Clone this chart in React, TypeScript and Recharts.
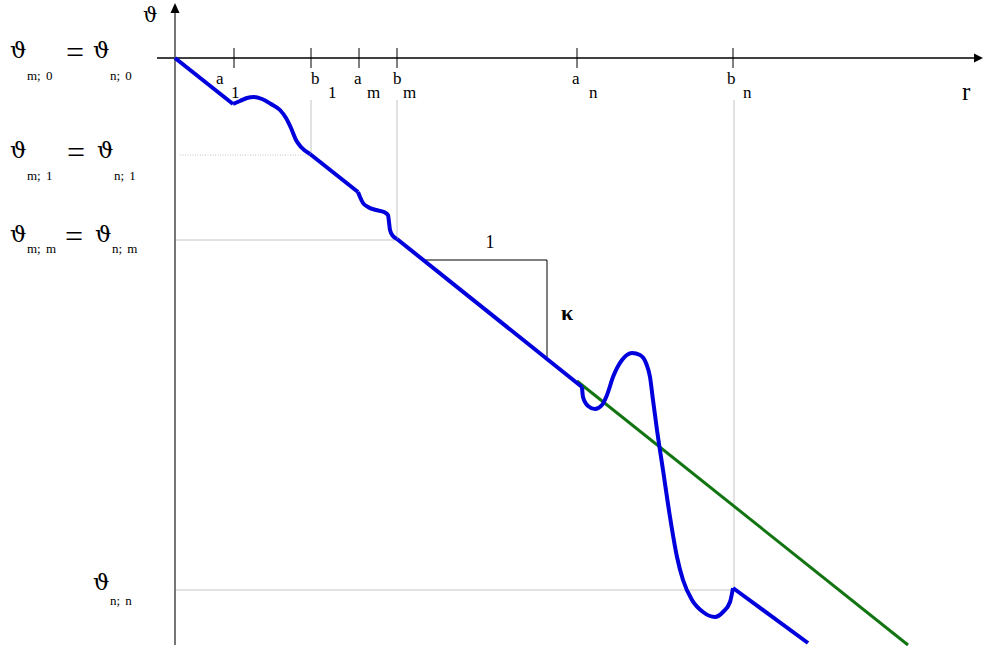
import { ComposedChart, Line, XAxis, YAxis, ReferenceLine, ReferenceDot } from "recharts";

// r to the right, theta upwards; origin where the two axes cross
const runToA1 = [{ r: 0, t: 0 }, { r: 58, t: -46 }];
const bumpOne = [
  { r: 58, t: -46 }, { r: 65, t: -43 }, { r: 72, t: -40 }, { r: 79, t: -39 }, { r: 87, t: -41 },
  { r: 96, t: -46 }, { r: 105, t: -52 }, { r: 111, t: -60 }, { r: 116, t: -70 }, { r: 121, t: -82 },
  { r: 126, t: -89 }, { r: 135, t: -96 },
];
const runToAm = [{ r: 135, t: -96 }, { r: 183, t: -134 }];
const bumpM = [
  { r: 183, t: -134 }, { r: 185, t: -139 }, { r: 188, t: -145 }, { r: 193, t: -149 }, { r: 201, t: -152 },
  { r: 209, t: -154 }, { r: 213, t: -157 }, { r: 214, t: -164 }, { r: 215, t: -172 }, { r: 218, t: -178 },
  { r: 222, t: -181 },
];
const runToAn = [{ r: 222, t: -181 }, { r: 407, t: -329 }];
const bumpN = [
  { r: 407, t: -329 }, { r: 408, t: -339 }, { r: 413, t: -348 }, { r: 420, t: -351 }, { r: 427, t: -347 },
  { r: 432, t: -337 }, { r: 438, t: -319 }, { r: 447, t: -302 }, { r: 457, t: -295 }, { r: 465, t: -297 },
  { r: 471, t: -305 }, { r: 475, t: -319 }, { r: 478, t: -342 }, { r: 482, t: -372 }, { r: 488, t: -412 },
  { r: 495, t: -459 }, { r: 502, t: -499 }, { r: 508, t: -522 }, { r: 517, t: -542 }, { r: 528, t: -554 },
  { r: 540, t: -559 }, { r: 548, t: -554 }, { r: 555, t: -544 }, { r: 558, t: -530 },
];
const runAfterBn = [{ r: 558, t: -530 }, { r: 633, t: -585 }];
const slopeLine = [{ r: 402, t: -323 }, { r: 733, t: -587 }];

// ticks on the r axis
const tickR = [59, 136, 184, 222, 402, 558];
const tickMain = ["a", "b", "a", "b", "a", "b"];
const tickSub = ["1", "1", "m", "m", "n", "n"];
// hand placement of each tick label (px from the tick)
const tickMainDx = [-18, 0, -5, -4, -5, -6];
const tickSubDx = [-3, 17, 8, 6, 12, 10];

// levels marked on the theta axis
const levelT = [0, -97, -182];
const levelLeft = ["m; 0", "m; 1", "m; m"];
const levelRight = ["n; 0", "n; 1", "n; m"];
const levelNN = -532;

const SERIF = "'Liberation Serif', 'DejaVu Serif', serif";
const THETA_FONT = "'DejaVu Serif', serif";
const BLUE = "#0000dd";
const GREY = "#c4c4c4";

const blueProps = { dataKey: "t", stroke: BLUE, strokeWidth: 4, dot: false, isAnimationActive: false, activeDot: false } as const;

function Theta(x: number, y: number, size = 23) {
  return <text x={x} y={y} fontFamily={THETA_FONT} fontSize={size} fill="#000">ϑ</text>;
}

function LevelLabel(p: any, left: string, right: string, dy: number, subDy: number, eqDx: number, rDx: number) {
  const x = p.cx;
  const y = p.cy;
  return (
    <g fontFamily={SERIF} fill="#000">
      {Theta(x, y + dy)}
      <text x={x + 17} y={y + subDy} fontSize={13} wordSpacing={2}>{left}</text>
      <text x={x + eqDx} y={y + dy + 5} fontSize={32}>=</text>
      {Theta(x + rDx, y + dy)}
      <text x={x + rDx + 17} y={y + subDy} fontSize={13} wordSpacing={2}>{right}</text>
    </g>
  );
}

export default function App() {
  const levelDy = [0, 3, 2];
  const levelSubDy = [22, 25, 13];
  const levelEq = [56, 57, 55];
  const levelRx = [83, 87, 85];
  return (
    <div style={{ position: "absolute", left: 0, top: 0 }}>
      <ComposedChart width={984} height={651} margin={{ top: 0, right: 0, left: 0, bottom: 0 }}>
        <XAxis dataKey="r" type="number" domain={[-175, 809]} allowDataOverflow hide />
        <YAxis type="number" domain={[-593, 58]} allowDataOverflow hide />

        {/* guide lines */}
        <ReferenceLine segment={[{ x: 136, y: -42 }, { x: 136, y: -96 }]} stroke={GREY} strokeWidth={1} />
        <ReferenceLine segment={[{ x: 5, y: -97 }, { x: 133, y: -97 }]} stroke={GREY} strokeWidth={1} strokeDasharray="1 1.5" />
        <ReferenceLine segment={[{ x: 222, y: -42 }, { x: 222, y: -181 }]} stroke={GREY} strokeWidth={1} />
        <ReferenceLine segment={[{ x: 0, y: -182 }, { x: 222, y: -182 }]} stroke={GREY} strokeWidth={1} />
        <ReferenceLine segment={[{ x: 559, y: -42 }, { x: 559, y: -530 }]} stroke={GREY} strokeWidth={1} />
        <ReferenceLine segment={[{ x: 0, y: -532 }, { x: 559, y: -532 }]} stroke={GREY} strokeWidth={1} />

        {/* axes */}
        <ReferenceLine segment={[{ x: -18, y: 0 }, { x: 800, y: 0 }]} stroke="#000" strokeWidth={1.5} />
        <ReferenceLine segment={[{ x: 0, y: -587 }, { x: 0, y: 45 }]} stroke="#555" strokeWidth={1.6} />
        <ReferenceDot x={808} y={0} shape={(p: any) => (
          <polygon points={`${p.cx},${p.cy} ${p.cx - 9},${p.cy - 4.5} ${p.cx - 9},${p.cy + 4.5}`} fill="#000" />
        )} />
        <ReferenceDot x={0} y={55} shape={(p: any) => (
          <polygon points={`${p.cx},${p.cy} ${p.cx - 4.5},${p.cy + 10} ${p.cx + 4.5},${p.cy + 10}`} fill="#000" />
        )} />
        {tickR.map((r, i) => (
          <ReferenceLine key={"tk" + i} segment={[{ x: r, y: 10 }, { x: r, y: -10 }]} stroke="#000" strokeWidth={1} />
        ))}
        {tickR.map((r, i) => (
          <ReferenceDot key={"tl" + i} x={r} y={0} shape={(p: any) => (
            <g fontFamily={SERIF} fontSize={17} fill="#000">
              <text x={p.cx + tickMainDx[i]} y={p.cy + 26}>{tickMain[i]}</text>
              <text x={p.cx + tickSubDx[i]} y={p.cy + 40}>{tickSub[i]}</text>
            </g>
          )} />
        ))}

        {/* slope triangle */}
        <ReferenceLine segment={[{ x: 248, y: -202 }, { x: 372, y: -202 }]} stroke="#000" strokeWidth={1} />
        <ReferenceLine segment={[{ x: 372, y: -202 }, { x: 372, y: -299 }]} stroke="#000" strokeWidth={1} />

        <Line data={slopeLine} dataKey="t" type="linear" stroke="#127512" strokeWidth={3} dot={false} activeDot={false} isAnimationActive={false} />
        <Line {...blueProps} data={runToA1} type="linear" />
        <Line {...blueProps} data={bumpOne} type="monotone" />
        <Line {...blueProps} data={runToAm} type="linear" />
        <Line {...blueProps} data={bumpM} type="monotone" />
        <Line {...blueProps} data={runToAn} type="linear" />
        <Line {...blueProps} data={bumpN} type="monotone" />
        <Line {...blueProps} data={runAfterBn} type="linear" />

        {/* texts */}
        <ReferenceDot x={315} y={-190} shape={(p: any) => (
          <text x={p.cx} y={p.cy} fontFamily={SERIF} fontSize={18} textAnchor="middle">1</text>
        )} />
        <ReferenceDot x={392} y={-262} shape={(p: any) => (
          <text x={p.cx} y={p.cy} fontFamily={SERIF} fontSize={22} fontWeight="bold" textAnchor="middle">κ</text>
        )} />
        <ReferenceDot x={787} y={-42} shape={(p: any) => (
          <text x={p.cx} y={p.cy} fontFamily={SERIF} fontSize={25}>r</text>
        )} />
        <ReferenceDot x={-32} y={36} shape={(p: any) => Theta(p.cx, p.cy, 20)} />
        {levelT.map((t, i) => (
          <ReferenceDot key={"lv" + i} x={-165} y={t} shape={(p: any) =>
            LevelLabel(p, levelLeft[i], levelRight[i], levelDy[i], levelSubDy[i], levelEq[i], levelRx[i])
          } />
        ))}
        <ReferenceDot x={-82} y={levelNN} shape={(p: any) => (
          <g fontFamily={SERIF} fill="#000">
            {Theta(p.cx, p.cy)}
            <text x={p.cx + 17} y={p.cy + 15} fontSize={13} wordSpacing={2}>n; n</text>
          </g>
        )} />
      </ComposedChart>
    </div>
  );
}
